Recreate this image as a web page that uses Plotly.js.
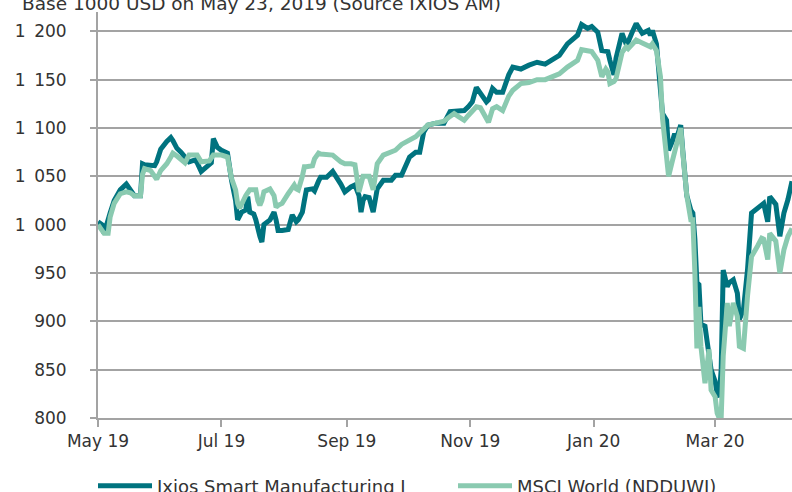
<!DOCTYPE html>
<html>
<head>
<meta charset="utf-8">
<script src="https://cdn.plot.ly/plotly-3.0.1.min.js"></script>
<style>
html,body{margin:0;padding:0;background:#fff;overflow:hidden;width:792px;height:492px;}
#chart{width:830px;height:540px;}
</style>
</head>
<body>
<div id="chart"></div>
<script>
const dates = [
"2019-05-23","2019-05-25","2019-05-26","2019-05-28","2019-05-29","2019-05-31","2019-06-03","2019-06-06","2019-06-08","2019-06-10",
"2019-06-13","2019-06-14","2019-06-15","2019-06-18","2019-06-20","2019-06-21","2019-06-23","2019-06-26","2019-06-28","2019-06-29",
"2019-07-01","2019-07-03","2019-07-05","2019-07-07","2019-07-10","2019-07-11","2019-07-13","2019-07-17","2019-07-18","2019-07-19",
"2019-07-21","2019-07-23","2019-07-26","2019-07-28","2019-07-30","2019-07-31","2019-08-01","2019-08-02","2019-08-04","2019-08-05",
"2019-08-06","2019-08-08","2019-08-09","2019-08-10","2019-08-11","2019-08-12","2019-08-13","2019-08-16","2019-08-18","2019-08-19",
"2019-08-20","2019-08-22","2019-08-23","2019-08-25","2019-08-27","2019-08-28","2019-08-29","2019-08-30","2019-09-01","2019-09-02",
"2019-09-03","2019-09-06","2019-09-07","2019-09-09","2019-09-10","2019-09-13","2019-09-16","2019-09-20","2019-09-22","2019-09-25",
"2019-09-27","2019-09-29","2019-09-30","2019-10-01","2019-10-02","2019-10-04","2019-10-06","2019-10-08","2019-10-11","2019-10-15",
"2019-10-17","2019-10-20","2019-10-22","2019-10-24","2019-10-27","2019-10-29","2019-10-31","2019-11-02","2019-11-06","2019-11-10",
"2019-11-13","2019-11-15","2019-11-17","2019-11-20","2019-11-22","2019-11-24","2019-11-26","2019-11-28","2019-11-29","2019-12-01",
"2019-12-02","2019-12-04","2019-12-06","2019-12-09","2019-12-12","2019-12-14","2019-12-18","2019-12-22","2019-12-26","2019-12-30",
"2020-01-02","2020-01-06","2020-01-10","2020-01-12","2020-01-15","2020-01-17","2020-01-20","2020-01-22","2020-01-24","2020-01-25",
"2020-01-27","2020-01-29","2020-01-30","2020-01-31","2020-02-02","2020-02-03","2020-02-06","2020-02-08","2020-02-09","2020-02-11",
"2020-02-13","2020-02-16","2020-02-19","2020-02-20","2020-02-21","2020-02-23","2020-02-25","2020-02-26","2020-02-28","2020-02-29",
"2020-03-02","2020-03-03","2020-03-04","2020-03-06","2020-03-07","2020-03-09","2020-03-11","2020-03-12","2020-03-13","2020-03-14",
"2020-03-15","2020-03-16","2020-03-18","2020-03-20","2020-03-21","2020-03-23","2020-03-24","2020-03-25","2020-03-26","2020-03-27",
"2020-03-29","2020-03-30","2020-04-01","2020-04-03","2020-04-04","2020-04-06","2020-04-08","2020-04-10","2020-04-13","2020-04-15",
"2020-04-16","2020-04-18","2020-04-19","2020-04-22","2020-04-24","2020-04-26","2020-04-28","2020-04-30"
];

const ixios = [
1003,1000,991,1003,1012,1025,1036,1042,1037,1030,
1030,1063,1062,1061,1061,1065,1078,1086,1090,1087,
1079,1075,1070,1065,1067,1064,1055,1063,1064,1089,
1080,1077,1074,1046,1025,1005,1008,1013,1015,1029,
1013,1011,1005,994,988,982,1000,1005,1013,1005,
994,994,994,995,1010,1007,1003,1005,1013,1025,
1036,1037,1035,1045,1049,1049,1055,1042,1034,1039,
1041,1030,1013,1025,1029,1028,1013,1037,1046,1046,
1051,1051,1062,1070,1075,1075,1096,1103,1105,1105,
1117,1117,1117,1118,1122,1127,1142,1137,1133,1127,
1129,1141,1137,1137,1155,1163,1161,1165,1168,1166,
1170,1175,1187,1191,1196,1207,1203,1205,1201,1199,
1180,1179,1179,1170,1155,1172,1198,1187,1189,1199,
1208,1198,1201,1196,1201,1187,1145,1115,1108,1077,
1087,1094,1090,1103,1077,1030,1015,1012,985,940,
938,897,895,870,850,838,825,822,850,953,
936,940,943,929,902,912,953,1012,1017,1020,
1022,1003,1029,1021,988,1012,1026,1045
];

const msci = [
1000,995,991,991,1008,1022,1032,1034,1033,1030,
1030,1052,1058,1056,1050,1047,1056,1063,1070,1074,
1071,1067,1064,1072,1072,1072,1065,1066,1069,1072,
1072,1072,1070,1048,1036,1022,1017,1022,1030,1033,
1036,1036,1036,1025,1020,1025,1034,1037,1030,1018,
1020,1022,1026,1032,1038,1041,1037,1036,1050,1060,
1060,1061,1068,1074,1073,1072,1072,1065,1063,1063,
1062,1034,1045,1050,1050,1050,1036,1063,1072,1075,
1077,1083,1085,1087,1091,1095,1100,1103,1105,1107,
1112,1115,1112,1108,1113,1118,1122,1121,1117,1110,
1106,1120,1122,1118,1133,1139,1146,1147,1150,1150,
1153,1156,1163,1166,1170,1181,1180,1179,1173,1170,
1153,1161,1158,1146,1148,1151,1178,1184,1182,1186,
1191,1188,1185,1184,1187,1180,1153,1110,1070,1050,
1067,1075,1084,1100,1075,1030,1005,1005,950,872,
915,874,836,871,829,822,805,800,800,864,
919,895,919,905,874,872,926,967,978,986,
985,964,991,983,950,974,988,996
];

const seriesNames = ["Ixios Smart Manufacturing I", "MSCI World (NDDUWI)"];
const xTickVals = ["2019-05-23","2019-07-23","2019-09-23","2019-11-23","2020-01-23","2020-03-23"];
const xTickText = ["May 19","Jul 19","Sep 19","Nov 19","Jan 20","Mar 20"];
const yTickVals = [800,850,900,950,1000,1050,1100,1150,1200];
const yTickText = ["800","850","900","950","1\u2002000","1\u2002050","1\u2002100","1\u2002150","1\u2002200"];
const chartTitle = "Base 1000 USD on May 23, 2019 (Source IXIOS AM)";

const FONT = "DejaVu Sans, sans-serif";
const GRID = "#a3a3a3";
const TEXT = "#333333";

const traces = [
  {x: dates, y: ixios, type: "scatter", mode: "lines", name: seriesNames[0],
   line: {color: "#00737f", width: 5}},
  {x: dates, y: msci, type: "scatter", mode: "lines", name: seriesNames[1],
   line: {color: "#8acab0", width: 5}}
];

const layout = {
  width: 830, height: 540,
  margin: {l: 98, r: 38, t: 12, b: 122},
  paper_bgcolor: "#ffffff", plot_bgcolor: "#ffffff",
  font: {family: FONT, color: TEXT, size: 17},
  showlegend: true,
  legend: {orientation: "h", x: -0.0072, xanchor: "left", y: -0.1675, yanchor: "middle",
           entrywidth: 291, entrywidthmode: "pixels", itemwidth: 54,
           font: {family: FONT, size: 18, color: TEXT}, bgcolor: "rgba(0,0,0,0)"},
  xaxis: {type: "date", range: ["2019-05-23", "2020-04-30"],
          tickvals: xTickVals, ticktext: xTickText,
          showgrid: false, zeroline: false,
          showline: true, linecolor: GRID, linewidth: 2,
          ticks: "outside", ticklen: 7, tickwidth: 2, tickcolor: GRID,
          tickfont: {family: FONT, size: 17, color: TEXT}},
  yaxis: {range: [800, 1220], tickvals: yTickVals, ticktext: yTickText,
          showgrid: true, gridcolor: GRID, gridwidth: 2, zeroline: false,
          showline: true, linecolor: GRID, linewidth: 2,
          ticks: "outside", ticklen: 6, tickwidth: 2, tickcolor: GRID,
          ticklabelstandoff: 20,
          tickfont: {family: FONT, size: 17, color: TEXT}},
  annotations: [{text: chartTitle, xref: "paper", yref: "paper",
                 x: -0.1124, xanchor: "left", y: 1, yanchor: "bottom", yshift: -4,
                 showarrow: false, font: {family: FONT, size: 18.5, color: TEXT}}]
};

Plotly.newPlot("chart", traces, layout, {displayModeBar: false, staticPlot: true});
</script>
</body>
</html>
